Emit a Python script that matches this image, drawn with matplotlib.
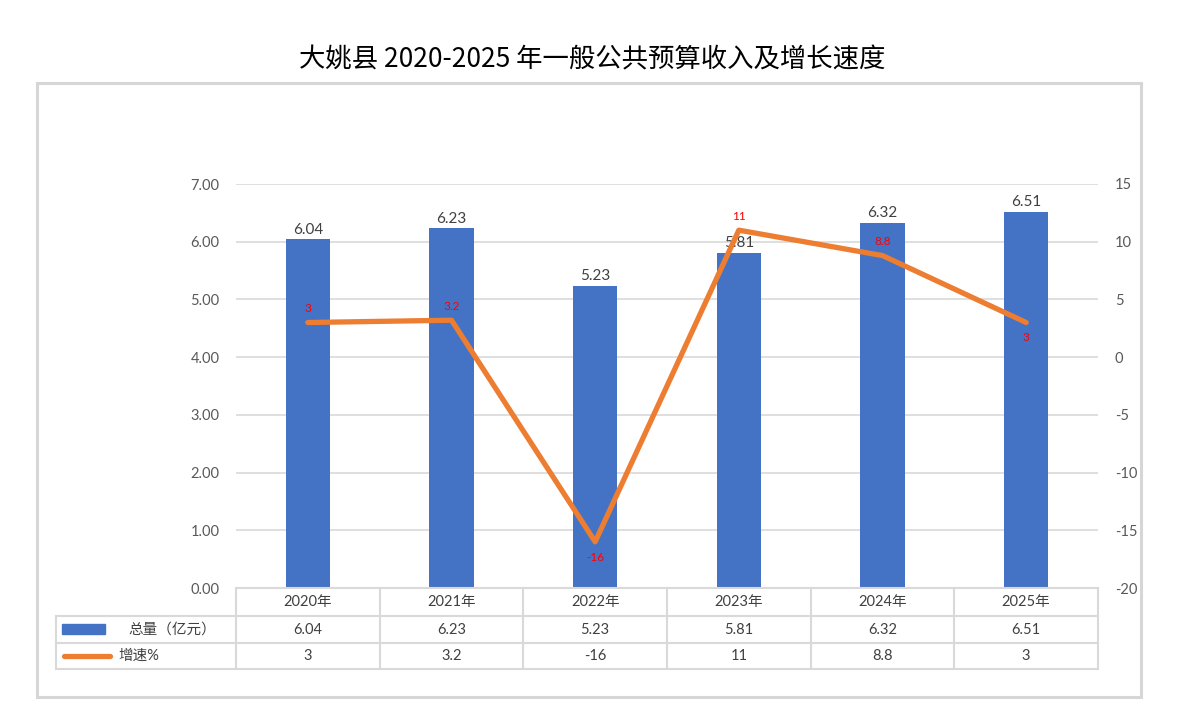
import matplotlib.pyplot as plt
from matplotlib.patches import Rectangle
from matplotlib.lines import Line2D
import numpy as np

plt.rcParams['font.family'] = ['Lato', 'Noto Sans CJK SC', 'DejaVu Sans']
plt.rcParams['axes.unicode_minus'] = False

years = ['2020年', '2021年', '2022年', '2023年', '2024年', '2025年']
total = [6.04, 6.23, 5.23, 5.81, 6.32, 6.51]
growth = [3, 3.2, -16, 11, 8.8, 3]
growth_text = ['3', '3.2', '-16', '11', '8.8', '3']
growth_below = [False, False, True, False, False, True]

W, H = 1184, 726
fig = plt.figure(figsize=(W / 100, H / 100), dpi=100)

def fx(px):
    return px / W

def fy(py):
    return 1 - py / H

# plot area in pixels
L, R, T, B = 236, 1098, 184, 588
ax = fig.add_axes([fx(L), fy(B), fx(R) - fx(L), fy(T) - fy(B)])
ax2 = ax.twinx()

x = np.arange(len(years))
ax.bar(x, total, width=0.31, color='#4472C4', zorder=3)
ax.set_xlim(-0.5, len(years) - 0.5)
ax.set_ylim(0, 7)
ax.set_yticks(np.arange(0, 8, 1))
ax.set_yticklabels([f'{v:.2f}' for v in np.arange(0, 8, 1)])
ax.grid(axis='y', color='#D9D9D9', lw=1.2, zorder=0)
ax.set_xticks([])
for s in ax.spines.values():
    s.set_visible(False)
for s in ax2.spines.values():
    s.set_visible(False)
ax.tick_params(axis='y', length=0, labelsize=10.5, labelcolor='#595959', pad=12)

for xi, v in zip(x, total):
    ax.text(xi, v + 0.05, f'{v:.2f}', ha='center', va='bottom', fontsize=11, color='#404040', zorder=5)

ax2.plot(x, growth, color='#ED7D31', lw=3.8, solid_capstyle='round', zorder=4)
ax2.set_ylim(-20, 15)
ax2.set_yticks(np.arange(-20, 16, 5))
ax2.tick_params(axis='y', length=0, labelsize=10.5, labelcolor='#595959', pad=12)
for xi, v, t, below in zip(x, growth, growth_text, growth_below):
    if below:
        ax2.annotate(t, (xi, v), xytext=(0, -7), textcoords='offset points',
                     ha='center', va='top', fontsize=8.5, color='#FF0000')
    else:
        ax2.annotate(t, (xi, v), xytext=(0, 6), textcoords='offset points',
                     ha='center', va='bottom', fontsize=8.5, color='#FF0000')

# data table below the plot
line_c = '#D9D9D9'
rows_y = [588, 616, 643, 669]
TL = 56
cell_w = (R - L) / len(years)
fig.add_artist(Line2D([fx(L), fx(R)], [fy(rows_y[0])] * 2, color=line_c, lw=1.5))
for ry in rows_y[1:]:
    fig.add_artist(Line2D([fx(TL), fx(R)], [fy(ry)] * 2, color=line_c, lw=1.5))
for i in range(len(years) + 1):
    cx = L + i * cell_w
    fig.add_artist(Line2D([fx(cx), fx(cx)], [fy(rows_y[0]), fy(rows_y[3])], color=line_c, lw=1.5))
fig.add_artist(Line2D([fx(TL), fx(TL)], [fy(rows_y[1]), fy(rows_y[3])], color=line_c, lw=1.5))

for i, (yr, v, g) in enumerate(zip(years, total, growth_text)):
    cx = L + (i + 0.5) * cell_w
    fig.text(fx(cx), fy((rows_y[0] + rows_y[1]) / 2), yr, ha='center', va='center', fontsize=10.5, color='#404040')
    fig.text(fx(cx), fy((rows_y[1] + rows_y[2]) / 2), f'{v:.2f}', ha='center', va='center', fontsize=10.5, color='#404040')
    fig.text(fx(cx), fy((rows_y[2] + rows_y[3]) / 2), g, ha='center', va='center', fontsize=10.5, color='#404040')

fig.add_artist(Rectangle((fx(62), fy(634)), fx(105) - fx(62), fy(624) - fy(634), color='#4472C4'))
fig.add_artist(Line2D([fx(64), fx(110)], [fy(656)] * 2, color='#ED7D31', lw=3.8, solid_capstyle='round'))
fig.text(fx(128), fy((rows_y[1] + rows_y[2]) / 2), '总量（亿元）', ha='left', va='center', fontsize=10.5, color='#404040')
fig.text(fx(118), fy((rows_y[2] + rows_y[3]) / 2), '增速%', ha='left', va='center', fontsize=10.5, color='#404040')

# outer frame
fig.add_artist(Rectangle((fx(37), fy(697)), fx(1141) - fx(37), fy(83) - fy(697),
                         fill=False, edgecolor='#D6D6D6', lw=2.2))

fig.text(0.5, fy(60), '大姚县 2020-2025 年一般公共预算收入及增长速度', ha='center', va='center',
         fontsize=19, color='#000000', family=['Noto Sans CJK SC', 'DejaVu Sans'], weight='medium')

fig.savefig('out.png', dpi=100)
